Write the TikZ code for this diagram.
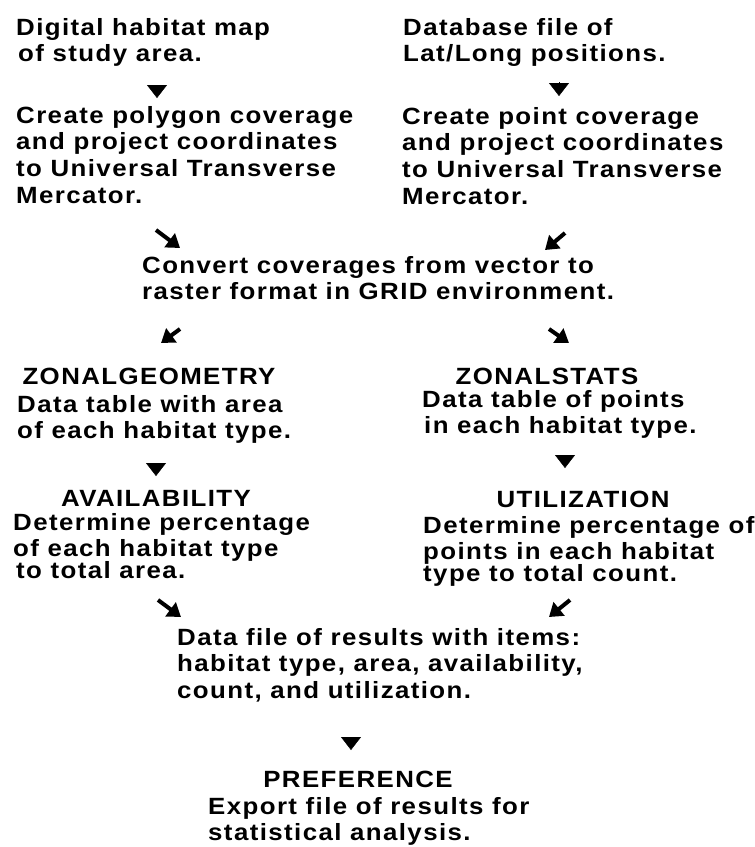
\documentclass[tikz,border=0pt]{standalone}
\usepackage{fontspec}
\setmainfont{Liberation Sans}[LetterSpace=6, FakeStretch=1.10]
\usetikzlibrary{arrows.meta}

\begin{document}
\begin{tikzpicture}[x=1pt, y=-1pt,
  font=\fontsize{23.5}{26.7}\selectfont\bfseries,
  txt/.style={align=left, anchor=north west, inner sep=0pt},
  ttl/.style={anchor=north, inner sep=0pt},
  headonly/.style={-{Triangle[width=20pt,length=13pt]}},
  diag/.style={-{Triangle[width=17pt,length=13pt]}, line width=4pt}
]
  \useasboundingbox (0,0) rectangle (755,847);

  % two inputs
  \node[txt] (dig)     at (16,18)   {Digital habitat map\\\hspace*{2pt}of study area.};
  \node[txt] (ptsdb)   at (403,18)  {Database file of\\Lat/Long positions.};
  \node[txt] (polycov) at (16,106)  {Create polygon coverage\\and project coordinates\\to Universal Transverse\\Mercator.};
  \node[txt] (ptcov)   at (402,107) {Create point coverage\\and project coordinates\\to Universal Transverse\\Mercator.};
  \node[txt] (conv)    at (142,256) {Convert coverages from vector to\\raster format in GRID environment.};

  % left branch
  \node[ttl] (zgeo)     at (149,368) {ZONALGEOMETRY};
  \node[txt] (zgeotxt)  at (17,395)  {Data table with area\\of each habitat type.};
  \node[ttl] (avail)    at (156,490) {AVAILABILITY};
  \node[txt] (availtxt) at (13,513)  {Determine percentage\\of each habitat type\\[-5pt]\hspace*{3pt}to total area.};

  % right branch
  \node[ttl] (zstat)    at (547,368) {ZONALSTATS};
  \node[txt] (zstattxt) at (422,390) {Data table of points\\\hspace*{2pt}in each habitat type.};
  \node[ttl] (util)     at (583,491) {UTILIZATION};
  \node[txt] (utiltxt)  at (423,516) {Determine percentage of\\points in each habitat\\[-5pt]type to total count.};

  % results
  \node[txt] (res)     at (177,628) {Data file of results with items:\\habitat type, area, availability,\\count, and utilization.};
  \node[ttl] (pref)    at (358,771) {PREFERENCE};
  \node[txt] (preftxt) at (208,797) {Export file of results for\\statistical analysis.};

  % arrow marks
  \coordinate (t1a) at (157,85);  \coordinate (t1b) at (157,98);
  \coordinate (t2a) at (559,82);  \coordinate (t2b) at (559,96);
  \coordinate (t3a) at (156,464); \coordinate (t3b) at (156,476);
  \coordinate (t4a) at (565,455); \coordinate (t4b) at (565,468);
  \coordinate (t5a) at (351,737); \coordinate (t5b) at (351,750);
  \draw[headonly] (t1a) -- (t1b);
  \draw[headonly] (t2a) -- (t2b);
  \draw[headonly] (t3a) -- (t3b);
  \draw[headonly] (t4a) -- (t4b);
  \draw[headonly] (t5a) -- (t5b);

  \coordinate (d1a) at (156,230); \coordinate (d1b) at (180,248);
  \coordinate (d2a) at (565,233); \coordinate (d2b) at (545,250);
  \coordinate (d3a) at (180,329); \coordinate (d3b) at (161,343);
  \coordinate (d4a) at (549,329); \coordinate (d4b) at (569,343);
  \coordinate (d5a) at (158,600); \coordinate (d5b) at (181,617);
  \coordinate (d6a) at (570,600); \coordinate (d6b) at (549,617);
  \draw[diag] (d1a) -- (d1b);
  \draw[diag] (d2a) -- (d2b);
  \draw[diag] (d3a) -- (d3b);
  \draw[diag] (d4a) -- (d4b);
  \draw[diag] (d5a) -- (d5b);
  \draw[diag] (d6a) -- (d6b);
\end{tikzpicture}
\end{document}
